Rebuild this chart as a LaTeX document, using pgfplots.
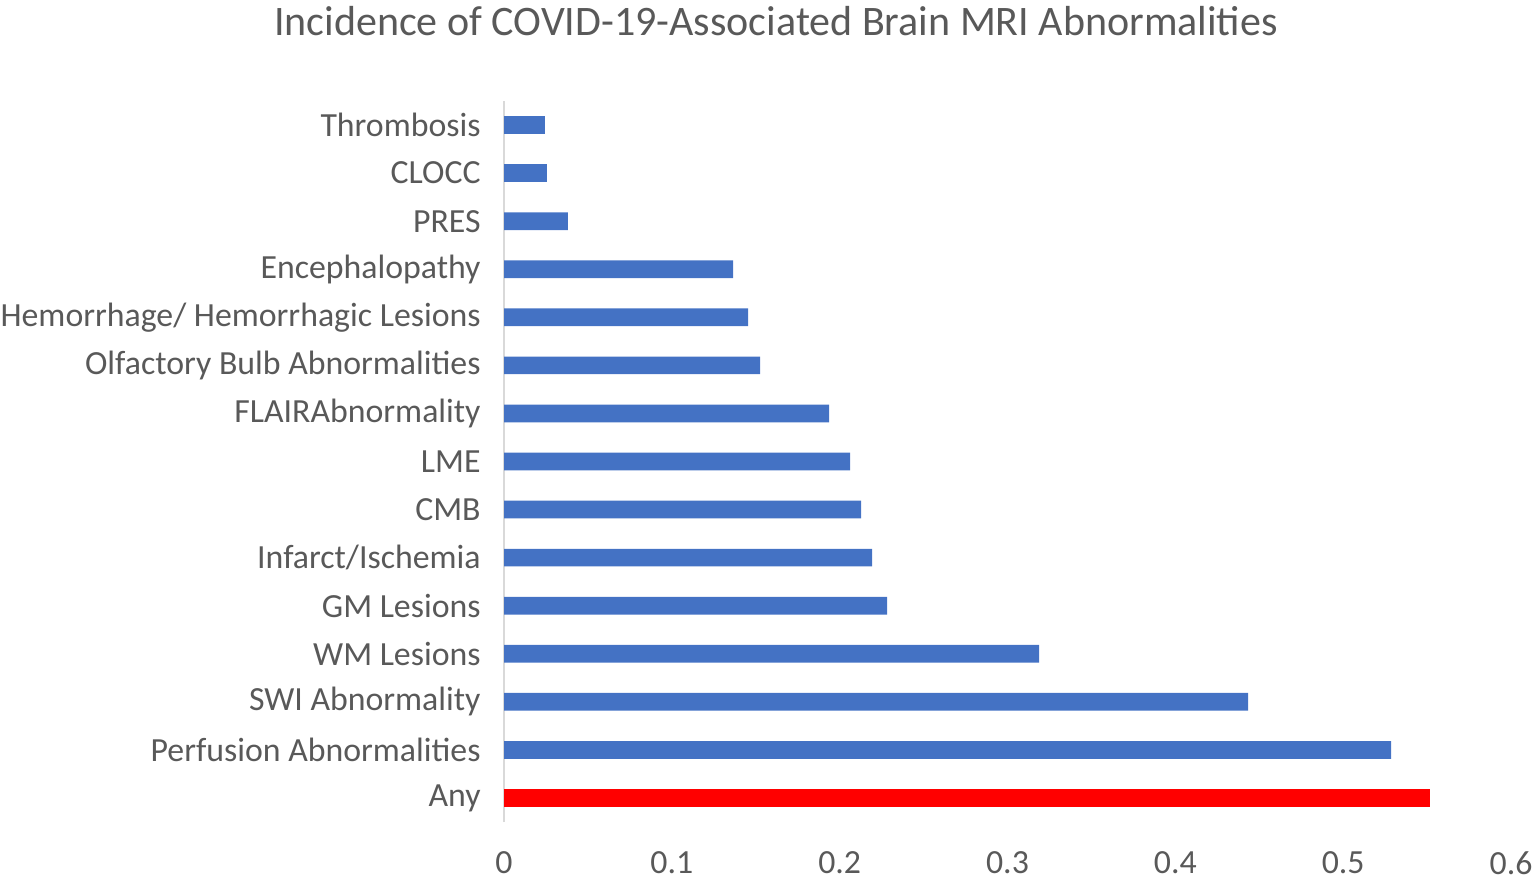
\documentclass[border=0pt]{standalone}
\usepackage{fontspec}
\setmainfont{Carlito}
\usepackage{pgfplots}
\pgfplotsset{compat=1.18}
\definecolor{txt}{HTML}{595959}
\definecolor{bblue}{HTML}{4472C4}
\definecolor{axgray}{HTML}{D9D9D9}
\begin{document}
\begin{tikzpicture}
\begin{axis}[
  name=ax, scale only axis, width=503.5bp, height=360.5bp,
  xmin=0, xmax=0.6, ymin=-0.5, ymax=14.5,
  xtick={0,0.1,0.2,0.3,0.4,0.5,0.6},
  xticklabels={0,0.1,0.2,0.3,0.4,0.5,0.6},
  ytick={0,...,14},
  yticklabels={Any,Perfusion Abnormalities,SWI Abnormality,WM Lesions,GM Lesions,Infarct/Ischemia,CMB,LME,FLAIRAbnormality,Olfactory Bulb Abnormalities,Hemorrhage/ Hemorrhagic Lesions,Encephalopathy,PRES,CLOCC,Thrombosis},
  axis lines*=left,
  x axis line style={draw=none},
  y axis line style={draw=axgray, line width=1.2bp},
  major tick length=0pt,
  /pgf/number format/assume math mode=true,
  ticklabel style={font=\fontsize{16.9bp}{20bp}\selectfont, text=txt, inner sep=0pt},
  yticklabel style={xshift=-11.5bp},
  xticklabel style={yshift=-14.5bp},
  clip=false,
]
\addplot[xbar, bar width=8.85bp, bar shift=0pt, fill=red, draw=none] coordinates {(0.5518,0)};
\addplot[xbar, bar width=8.85bp, bar shift=0pt, fill=bblue, draw=none] coordinates {
(0.5286,1) (0.4434,2) (0.3188,3) (0.2282,4) (0.2193,5) (0.2128,6) (0.2062,7)
(0.1937,8) (0.1526,9) (0.1454,10) (0.1365,11) (0.0381,12) (0.0256,13) (0.0244,14)};
\end{axis}
\node[anchor=base, font=\fontsize{21bp}{25bp}\selectfont, text=txt] at ([xshift=136bp,yshift=32.5bp]ax.north west) {Incidence of COVID-19-Associated Brain MRI Abnormalities};
\pgfresetboundingbox
\useasboundingbox ([xshift=-252bp,yshift=-32.5bp]ax.south west) rectangle ([xshift=13bp,yshift=50.5bp]ax.north east);
\end{tikzpicture}
\end{document}
